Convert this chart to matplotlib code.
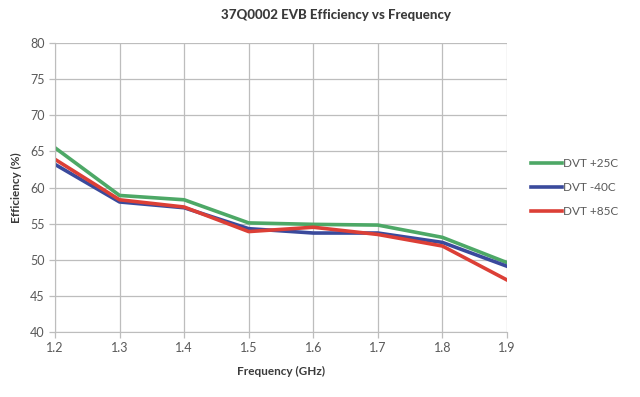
import numpy as np
import matplotlib
matplotlib.use("Agg")
import matplotlib.pyplot as plt

plt.rcParams['font.family'] = ['Lato', 'DejaVu Sans']

# data
freq_ghz = [1.2, 1.3, 1.4, 1.5, 1.6, 1.7, 1.8, 1.9]
eff_25c = [65.5, 58.9, 58.3, 55.1, 54.9, 54.8, 53.1, 49.6]
eff_m40c = [63.2, 58.0, 57.2, 54.3, 53.7, 53.7, 52.4, 49.1]
eff_85c = [63.9, 58.3, 57.3, 53.9, 54.5, 53.5, 51.9, 47.2]
series_names = ["DVT +25C", "DVT -40C", "DVT +85C"]
series_colors = ["#4da866", "#3a4a9c", "#dc3f36"]

fig = plt.figure(figsize=(6.4, 3.97), dpi=100)
ax = fig.add_axes([0.0859, 0.1637, 0.7063, 0.728])

for vals, name, col in zip([eff_25c, eff_m40c, eff_85c], series_names, series_colors):
    ax.plot(freq_ghz, vals, color=col, linewidth=2.6, label=name)

ax.set_xlim(1.2, 1.9)
ax.set_ylim(40, 80)
ax.set_xticks(freq_ghz)
ax.set_xticklabels([f"{f:.1f}" for f in freq_ghz])
ax.set_yticks(np.arange(40, 81, 5))
ax.grid(True, color="#bdbdbd", linewidth=0.9)
ax.set_axisbelow(True)
for s in ["top", "right"]:
    ax.spines[s].set_visible(False)
for s in ["left", "bottom"]:
    ax.spines[s].set_color("#bdbdbd")
ax.tick_params(colors="#bdbdbd", labelcolor="#595959", labelsize=9, length=4, width=0.9)

# title sits a bit right of the plot centre in the original
fig.text(0.525, 0.962, "37Q0002 EVB Efficiency vs Frequency", ha="center", va="center",
         fontsize=9.5, fontweight="black", color="#3a3a3a")
ax.set_xlabel("Frequency (GHz)", fontsize=8.5, fontweight="bold", color="#3a3a3a", labelpad=8)
ax.set_ylabel("Efficiency (%)", fontsize=8.5, fontweight="bold", color="#3a3a3a", labelpad=6)

leg = ax.legend(loc="center left", bbox_to_anchor=(1.03, 0.5), frameon=False,
                fontsize=8.5, handlelength=2.6, handletextpad=0.1, labelspacing=1.1)
for t in leg.get_texts():
    t.set_color("#595959")

fig.savefig("out.png", dpi=100)
